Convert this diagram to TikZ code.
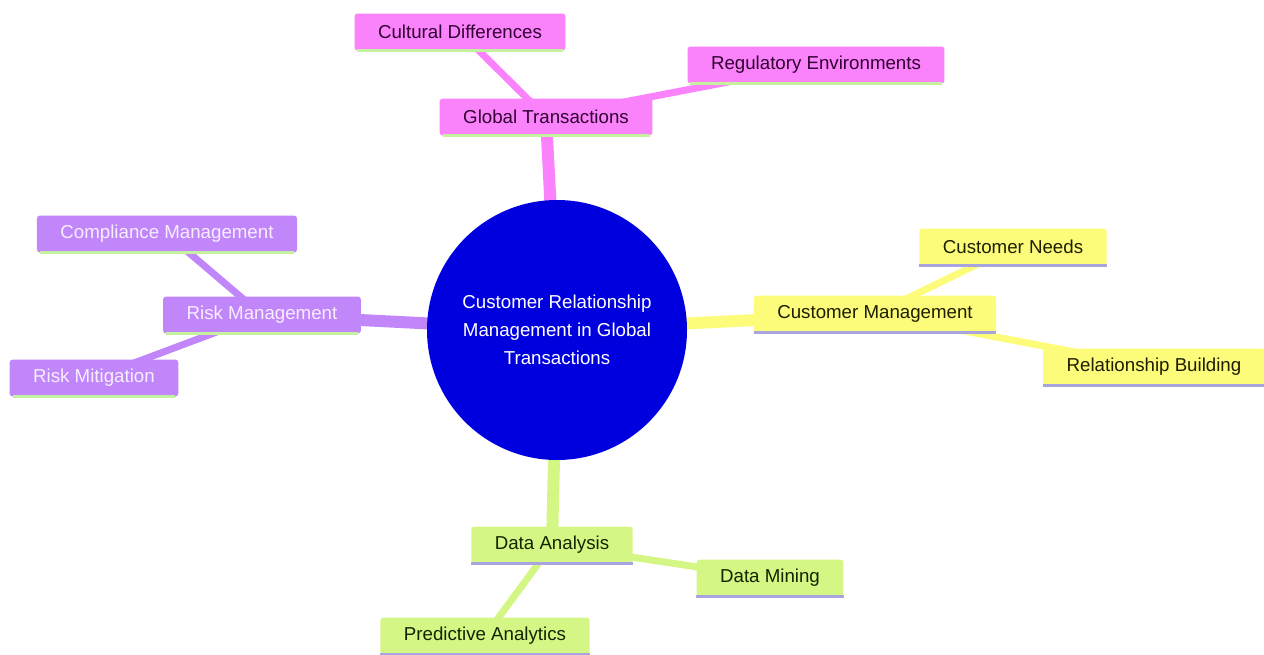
\documentclass[tikz,border=0pt]{standalone}
\usepackage{fontspec}
\setmainfont{Liberation Sans}
\usetikzlibrary{backgrounds}
\definecolor{pinkf}{RGB}{250,130,250}
\definecolor{purpf}{RGB}{192,134,250}
\definecolor{yelf}{RGB}{252,252,122}
\definecolor{grnf}{RGB}{212,246,132}
\definecolor{rootb}{RGB}{0,0,222}
\definecolor{pinkt}{RGB}{50,0,50}
\definecolor{purpt}{RGB}{248,238,255}
\definecolor{yelt}{RGB}{30,30,0}
\definecolor{grnt}{RGB}{20,36,0}
\definecolor{lgreen}{RGB}{196,240,160}
\definecolor{lav}{RGB}{168,164,224}
\tikzset{
  mm/.style={rectangle, rounded corners=3pt, inner xsep=23.5pt, inner ysep=0pt,
    minimum height=37pt, font=\fontsize{18.7}{22}\selectfont},
  pinkn/.style={mm, fill=pinkf, text=pinkt},
  purpn/.style={mm, fill=purpf, text=purpt},
  yeln/.style={mm, fill=yelf, text=yelt},
  grnn/.style={mm, fill=grnf, text=grnt},
  rootedge/.style={line width=12pt},
  subedge/.style={line width=7pt},
  uline/.style={line width=3pt},
}
\begin{document}
\begin{tikzpicture}[x=1pt,y=-1pt]
\useasboundingbox (0,0) rectangle (1264,654);
\node[circle, fill=rootb, minimum size=260pt, inner sep=0pt, text=white, align=center,
  font=\fontsize{18.7}{28}\selectfont] (root) at (557,330)
  {Customer Relationship\\Management in Global\\Transactions};
% pink
\node[pinkn] (gt) at (546,117) {Global Transactions};
\node[pinkn] (cd) at (460,32) {Cultural Differences};
\node[pinkn] (re) at (816,65) {Regulatory Environments};
% purple
\node[purpn] (rm) at (262,315) {Risk Management};
\node[purpn] (cm) at (167,234) {Compliance Management};
\node[purpn] (rmi) at (94,378) {Risk Mitigation};
% yellow
\node[yeln] (cmg) at (875,314) {Customer Management};
\node[yeln] (cn) at (1013,247) {Customer Needs};
\node[yeln] (rb) at (1154,367) {Relationship Building};
% green
\node[grnn] (da) at (552,545) {Data Analysis};
\node[grnn] (dm) at (770,578) {Data Mining};
\node[grnn] (pa) at (485,636) {Predictive Analytics};
% underlines
\foreach \n in {gt,cd,re,rm,cm,rmi}{
  \draw[uline, lgreen] ([xshift=3pt]\n.south west) -- ([xshift=-3pt]\n.south east);
}
\foreach \n in {cmg,cn,rb,da,dm,pa}{
  \draw[uline, lav] (\n.south west) -- (\n.south east);
}
\begin{scope}[on background layer]
\draw[rootedge, pinkf] (root.center) -- (gt.center);
\draw[rootedge, purpf] (root.center) -- (rm.center);
\draw[rootedge, yelf] (root.center) -- (cmg.center);
\draw[rootedge, grnf] (root.center) -- (da.center);
\draw[subedge, pinkf] (gt.center) -- (cd.center);
\draw[subedge, pinkf] (gt.center) -- (re.center);
\draw[subedge, purpf] (rm.center) -- (cm.center);
\draw[subedge, purpf] (rm.center) -- (rmi.center);
\draw[subedge, yelf] (cmg.center) -- (cn.center);
\draw[subedge, yelf] (cmg.center) -- (rb.center);
\draw[subedge, grnf] (da.center) -- (dm.center);
\draw[subedge, grnf] (da.center) -- (pa.center);
\end{scope}
\end{tikzpicture}
\end{document}
